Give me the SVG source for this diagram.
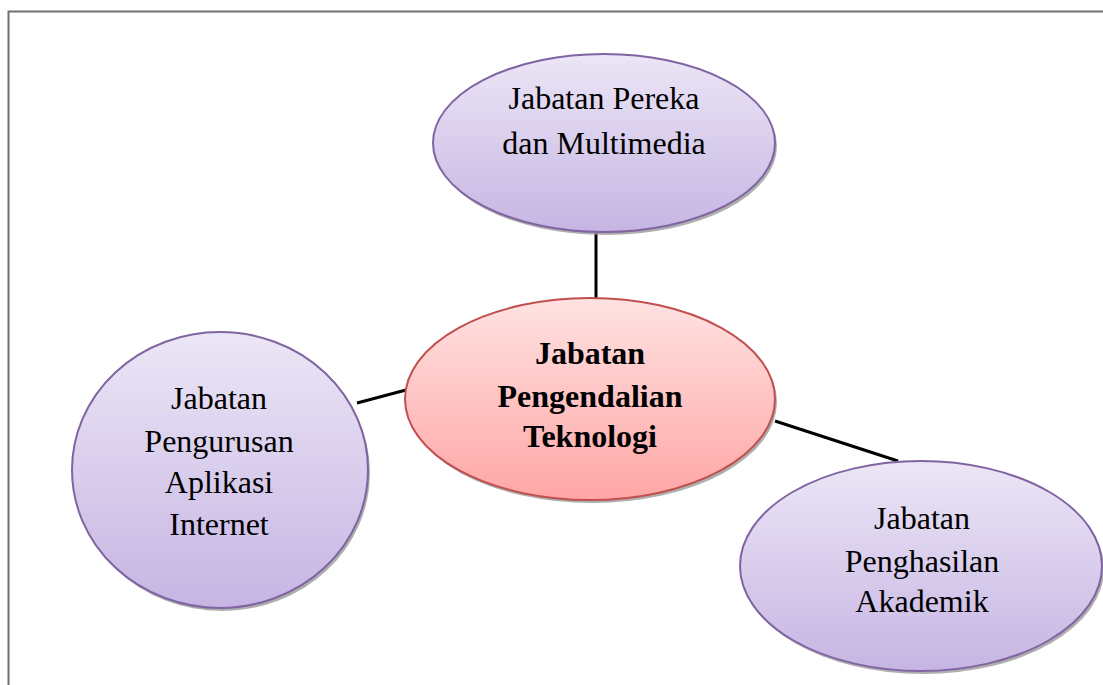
<svg xmlns="http://www.w3.org/2000/svg" width="1103" height="685" viewBox="0 0 1103 685">
<style>
.shadow{fill:#9a9a9a;opacity:0.8}
.purple{fill:url(#gp);stroke:#8064a2;stroke-width:2}
.pink{fill:url(#gr);stroke:#c0504d;stroke-width:2}
.t{font-family:"Liberation Serif","Times New Roman",serif;font-size:32px;fill:#000;text-anchor:middle}
.b{font-weight:bold}
.conn line{stroke:#000;stroke-width:3}
</style>
<defs>
<linearGradient id="gp" x1="0" y1="0" x2="0" y2="1">
<stop offset="0" stop-color="#ece6f6"/>
<stop offset="1" stop-color="#c6b5e3"/>
</linearGradient>
<linearGradient id="gr" x1="0" y1="0" x2="0" y2="1">
<stop offset="0" stop-color="#ffe2e2"/>
<stop offset="1" stop-color="#ffa6a6"/>
</linearGradient>
</defs>
<rect width="1103" height="685" fill="#fff"/>
<path d="M8.5 690 V11.5 H1110" fill="none" stroke="#707070" stroke-width="2"/>
<g class="conn">
<line x1="596" y1="233" x2="596" y2="298"/>
<line x1="357" y1="403" x2="406" y2="390"/>
<line x1="775" y1="421" x2="898" y2="461"/>
</g>
<g id="n-top">
<ellipse class="shadow" cx="606" cy="146" rx="171" ry="89"/>
<ellipse class="purple" cx="604" cy="143" rx="171" ry="89"/>
<text class="t" x="604" y="109">Jabatan Pereka</text>
<text class="t" x="604" y="154">dan Multimedia</text>
</g>
<g id="n-center">
<ellipse class="shadow" cx="592" cy="402" rx="185" ry="101"/>
<ellipse class="pink" cx="590" cy="399" rx="185" ry="101"/>
<text class="t b" x="590" y="364">Jabatan</text>
<text class="t b" x="590" y="407">Pengendalian</text>
<text class="t b" x="590" y="447">Teknologi</text>
</g>
<g id="n-left">
<ellipse class="shadow" cx="222" cy="473" rx="148" ry="138"/>
<ellipse class="purple" cx="220" cy="470" rx="148" ry="138"/>
<text class="t" x="219" y="409">Jabatan</text>
<text class="t" x="219" y="452">Pengurusan</text>
<text class="t" x="219" y="493">Aplikasi</text>
<text class="t" x="219" y="535">Internet</text>
</g>
<g id="n-right">
<ellipse class="shadow" cx="923" cy="569" rx="181" ry="105"/>
<ellipse class="purple" cx="921" cy="566" rx="181" ry="105"/>
<text class="t" x="922" y="529">Jabatan</text>
<text class="t" x="922" y="572">Penghasilan</text>
<text class="t" x="922" y="612">Akademik</text>
</g>
</svg>
